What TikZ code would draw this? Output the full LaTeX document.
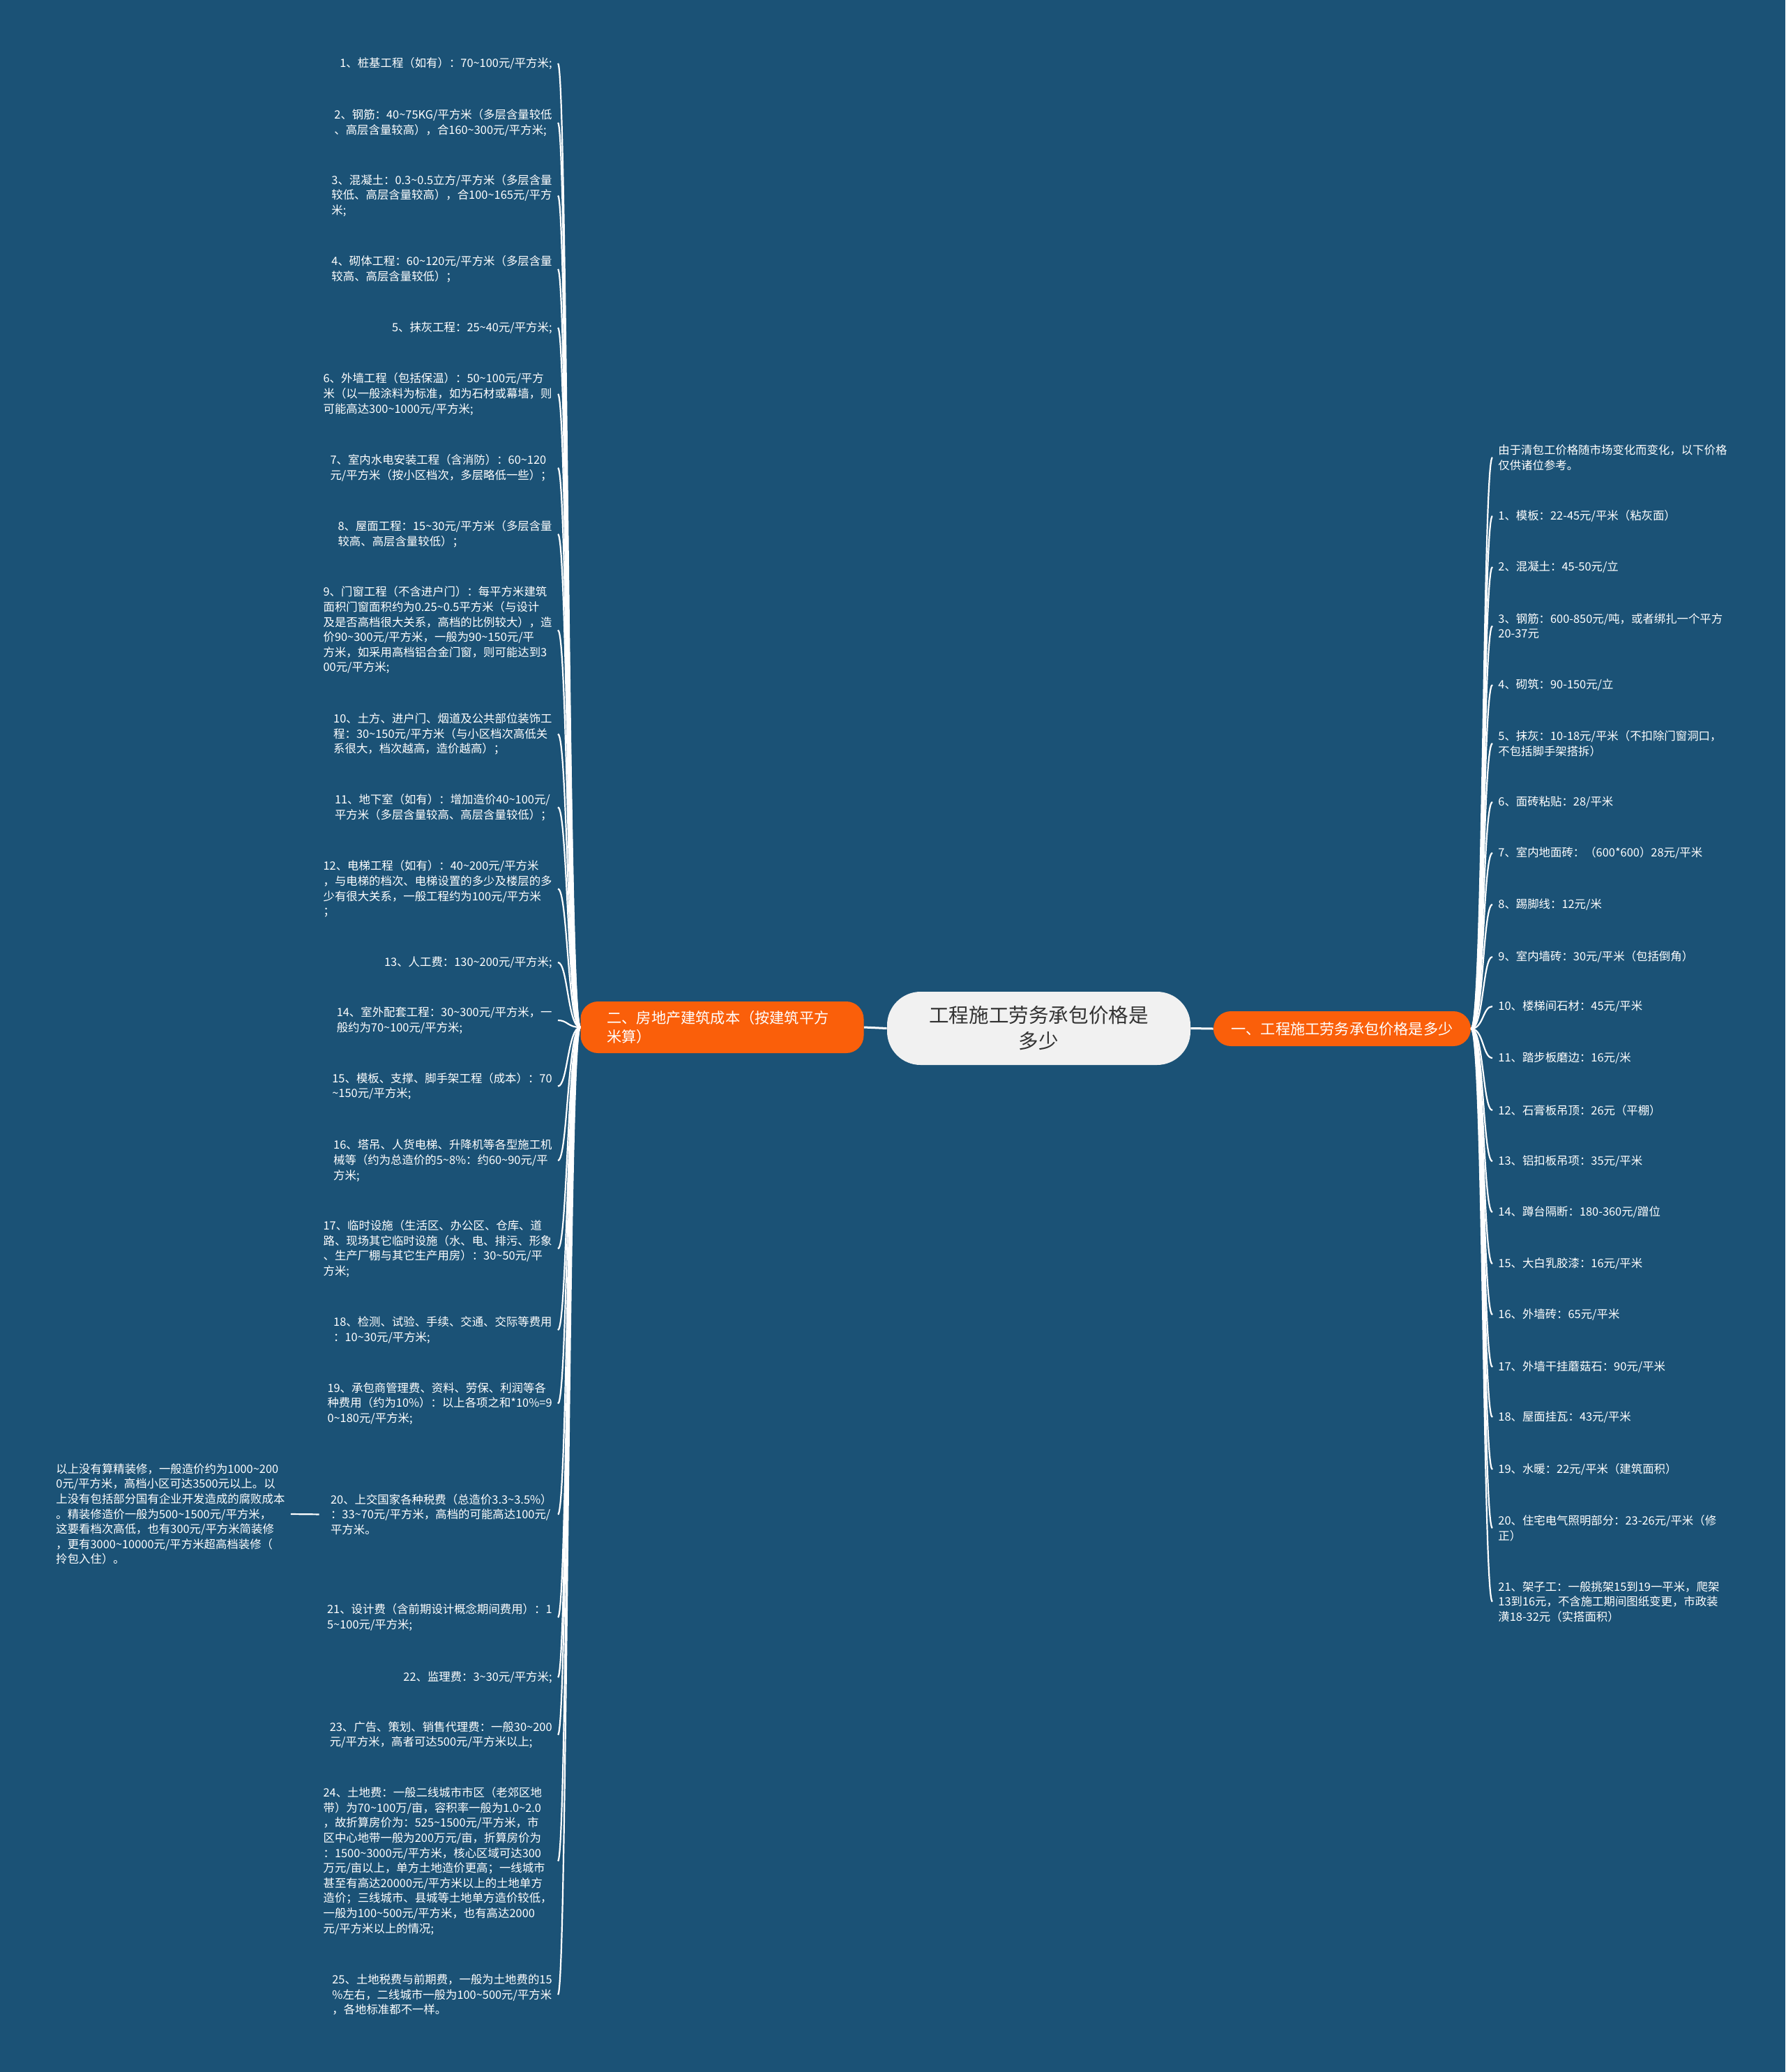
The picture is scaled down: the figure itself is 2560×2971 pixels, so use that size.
\documentclass[tikz,border=0pt]{standalone}
\usepackage{fontspec}
\setmainfont{Noto Sans CJK SC}
\usepackage{tikz}
\definecolor{bgblue}{RGB}{27,82,118}
\definecolor{mmorange}{RGB}{250,95,10}
\definecolor{topicgray}{RGB}{241,241,241}
\newcommand{\tld}{\char"7E\relax}

\begin{document}
\begin{tikzpicture}[x=0.5pt,y=-0.5pt,
    leafl/.style={anchor=east,align=left,text=white,inner xsep=4pt,inner ysep=0pt,font=\fontsize{8.2}{10.8}\selectfont},
    leafr/.style={leafl,anchor=west},
    branch/.style={fill=mmorange,text=white,rounded corners=12.5pt,font=\fontsize{10.6}{13.5}\selectfont},
    link/.style={white,line width=1.1pt}]
    \fill[bgblue] (0,0) rectangle (2560,2971);
    \useasboundingbox (0,0) rectangle (2560,2971);

    % centre and main branches
    \node[fill=topicgray,text=black!80,rounded corners=24pt,minimum width=217.5pt,minimum height=52.5pt,align=center,font=\fontsize{14.3}{18.5}\selectfont] (ctr) at (1489.5,1474.5) {工程施工劳务承包价格是\\多少};
    \node[branch,align=left,text width=165pt,inner xsep=19pt,minimum height=37pt] (lb) at (1035.5,1473) {二、房地产建筑成本（按建筑平方\\米算）};
    \node[branch,minimum width=184.5pt,minimum height=25pt] (rb) at (1924.5,1475) {一、工程施工劳务承包价格是多少};
    \draw[white,line width=1.5pt] (lb.east) -- (ctr.west);
    \draw[white,line width=1.5pt] (ctr.east) -- (rb.west);

    % left leaves
    \node[leafl] (l1) at (800,91) {1、桩基工程（如有）：70\tld100元/平方米;};
    \node[leafl] (l2) at (800,176) {2、钢筋：40\tld75KG/平方米（多层含量较低\\、高层含量较高），合160\tld300元/平方米;};
    \node[leafl] (l3) at (800,280.5) {3、混凝土：0.3\tld0.5立方/平方米（多层含量\\较低、高层含量较高），合100\tld165元/平方\\米;};
    \node[leafl] (l4) at (800,386) {4、砌体工程：60\tld120元/平方米（多层含量\\较高、高层含量较低）；};
    \node[leafl] (l5) at (800,470) {5、抹灰工程：25\tld40元/平方米;};
    \node[leafl] (l6) at (800,565) {6、外墙工程（包括保温）：50\tld100元/平方\\米（以一般涂料为标准，如为石材或幕墙，则\\可能高达300\tld1000元/平方米;};
    \node[leafl] (l7) at (800,671) {7、室内水电安装工程（含消防）：60\tld120\\元/平方米（按小区档次，多层略低一些）；};
    \node[leafl] (l8) at (800,766) {8、屋面工程：15\tld30元/平方米（多层含量\\较高、高层含量较低）；};
    \node[leafl] (l9) at (800,903.5) {9、门窗工程（不含进户门）：每平方米建筑\\面积门窗面积约为0.25\tld0.5平方米（与设计\\及是否高档很大关系，高档的比例较大），造\\价90\tld300元/平方米，一般为90\tld150元/平\\方米，如采用高档铝合金门窗，则可能达到3\\00元/平方米;};
    \node[leafl] (l10) at (800,1052.5) {10、土方、进户门、烟道及公共部位装饰工\\程：30\tld150元/平方米（与小区档次高低关\\系很大，档次越高，造价越高）；};
    \node[leafl] (l11) at (800,1157.5) {11、地下室（如有）：增加造价40\tld100元/\\平方米（多层含量较高、高层含量较低）；};
    \node[leafl] (l12) at (800,1274.5) {12、电梯工程（如有）：40\tld200元/平方米\\，与电梯的档次、电梯设置的多少及楼层的多\\少有很大关系，一般工程约为100元/平方米\\；};
    \node[leafl] (l13) at (800,1380) {13、人工费：130\tld200元/平方米;};
    \node[leafl] (l14) at (800,1463) {14、室外配套工程：30\tld300元/平方米，一\\般约为70\tld100元/平方米;};
    \node[leafl] (l15) at (800,1557.5) {15、模板、支撑、脚手架工程（成本）：70\\\tld150元/平方米;};
    \node[leafl] (l16) at (800,1664) {16、塔吊、人货电梯、升降机等各型施工机\\械等（约为总造价的5\tld8\%：约60\tld90元/平\\方米;};
    \node[leafl] (l17) at (800,1790.5) {17、临时设施（生活区、办公区、仓库、道\\路、现场其它临时设施（水、电、排污、形象\\、生产厂棚与其它生产用房）：30\tld50元/平\\方米;};
    \node[leafl] (l18) at (800,1907) {18、检测、试验、手续、交通、交际等费用\\：10\tld30元/平方米;};
    \node[leafl] (l19) at (800,2012.5) {19、承包商管理费、资料、劳保、利润等各\\种费用（约为10\%）：以上各项之和*10\%=9\\0\tld180元/平方米;};
    \node[leafl] (l20) at (800,2171.5) {20、上交国家各种税费（总造价3.3\tld3.5\%）\\：33\tld70元/平方米，高档的可能高达100元/\\平方米。};
    \node[leafl] (l21) at (800,2319) {21、设计费（含前期设计概念期间费用）：1\\5\tld100元/平方米;};
    \node[leafl] (l22) at (800,2405) {22、监理费：3\tld30元/平方米;};
    \node[leafl] (l23) at (800,2487.5) {23、广告、策划、销售代理费：一般30\tld200\\元/平方米，高者可达500元/平方米以上;};
    \node[leafl] (l24) at (800,2668.5) {24、土地费：一般二线城市市区（老郊区地\\带）为70\tld100万/亩，容积率一般为1.0\tld2.0\\，故折算房价为：525\tld1500元/平方米，市\\区中心地带一般为200万元/亩，折算房价为\\：1500\tld3000元/平方米，核心区域可达300\\万元/亩以上，单方土地造价更高；一线城市\\甚至有高达20000元/平方米以上的土地单方\\造价；三线城市、县城等土地单方造价较低，\\一般为100\tld500元/平方米，也有高达2000\\元/平方米以上的情况;};
    \node[leafl] (l25) at (800,2860) {25、土地税费与前期费，一般为土地费的15\\\%左右，二线城市一般为100\tld500元/平方米\\，各地标准都不一样。};
    \node[leafl,anchor=west] (note) at (72,2171) {以上没有算精装修，一般造价约为1000\tld200\\0元/平方米，高档小区可达3500元以上。以\\上没有包括部分国有企业开发造成的腐败成本\\。精装修造价一般为500\tld1500元/平方米，\\这要看档次高低，也有300元/平方米简装修\\，更有3000\tld10000元/平方米超高档装修（\\拎包入住）。};

    % right leaves
    \node[leafr] (r0) at (2140,656) {由于清包工价格随市场变化而变化，以下价格\\仅供诸位参考。};
    \node[leafr] (r1) at (2140,740) {1、模板：22-45元/平米（粘灰面）};
    \node[leafr] (r2) at (2140,813) {2、混凝土：45-50元/立};
    \node[leafr] (r3) at (2140,897.5) {3、钢筋：600-850元/吨，或者绑扎一个平方\\20-37元};
    \node[leafr] (r4) at (2140,982) {4、砌筑：90-150元/立};
    \node[leafr] (r5) at (2140,1066) {5、抹灰：10-18元/平米（不扣除门窗洞口，\\不包括脚手架搭拆）};
    \node[leafr] (r6) at (2140,1150) {6、面砖粘贴：28/平米};
    \node[leafr] (r7) at (2140,1223) {7、室内地面砖：（600*600）28元/平米};
    \node[leafr] (r8) at (2140,1297) {8、踢脚线：12元/米};
    \node[leafr] (r9) at (2140,1372) {9、室内墙砖：30元/平米（包括倒角）};
    \node[leafr] (r10) at (2140,1443) {10、楼梯间石材：45元/平米};
    \node[leafr] (r11) at (2140,1517) {11、踏步板磨边：16元/米};
    \node[leafr] (r12) at (2140,1592) {12、石膏板吊顶：26元（平棚）};
    \node[leafr] (r13) at (2140,1665) {13、铝扣板吊项：35元/平米};
    \node[leafr] (r14) at (2140,1738) {14、蹲台隔断：180-360元/蹭位};
    \node[leafr] (r15) at (2140,1812) {15、大白乳胶漆：16元/平米};
    \node[leafr] (r16) at (2140,1885) {16、外墙砖：65元/平米};
    \node[leafr] (r17) at (2140,1960) {17、外墙干挂蘑菇石：90元/平米};
    \node[leafr] (r18) at (2140,2032) {18、屋面挂瓦：43元/平米};
    \node[leafr] (r19) at (2140,2107) {19、水暖：22元/平米（建筑面积）};
    \node[leafr] (r20) at (2140,2191) {20、住宅电气照明部分：23-26元/平米（修\\正）};
    \node[leafr] (r21) at (2140,2296.5) {21、架子工：一般挑架15到19一平米，爬架\\13到16元，不含施工期间图纸变更，市政装\\潢18-32元（实搭面积）};

    % connectors, left
    \draw[link] (lb.west) .. controls +(-18,0) and +(14,0) .. (l1.east);
    \draw[link] (lb.west) .. controls +(-18,0) and +(14,0) .. (l2.east);
    \draw[link] (lb.west) .. controls +(-18,0) and +(14,0) .. (l3.east);
    \draw[link] (lb.west) .. controls +(-18,0) and +(14,0) .. (l4.east);
    \draw[link] (lb.west) .. controls +(-18,0) and +(14,0) .. (l5.east);
    \draw[link] (lb.west) .. controls +(-18,0) and +(14,0) .. (l6.east);
    \draw[link] (lb.west) .. controls +(-18,0) and +(14,0) .. (l7.east);
    \draw[link] (lb.west) .. controls +(-18,0) and +(14,0) .. (l8.east);
    \draw[link] (lb.west) .. controls +(-18,0) and +(14,0) .. (l9.east);
    \draw[link] (lb.west) .. controls +(-18,0) and +(14,0) .. (l10.east);
    \draw[link] (lb.west) .. controls +(-18,0) and +(14,0) .. (l11.east);
    \draw[link] (lb.west) .. controls +(-18,0) and +(14,0) .. (l12.east);
    \draw[link] (lb.west) .. controls +(-18,0) and +(14,0) .. (l13.east);
    \draw[link] (lb.west) .. controls +(-18,0) and +(14,0) .. (l14.east);
    \draw[link] (lb.west) .. controls +(-18,0) and +(14,0) .. (l15.east);
    \draw[link] (lb.west) .. controls +(-18,0) and +(14,0) .. (l16.east);
    \draw[link] (lb.west) .. controls +(-18,0) and +(14,0) .. (l17.east);
    \draw[link] (lb.west) .. controls +(-18,0) and +(14,0) .. (l18.east);
    \draw[link] (lb.west) .. controls +(-18,0) and +(14,0) .. (l19.east);
    \draw[link] (lb.west) .. controls +(-18,0) and +(14,0) .. (l20.east);
    \draw[link] (lb.west) .. controls +(-18,0) and +(14,0) .. (l21.east);
    \draw[link] (lb.west) .. controls +(-18,0) and +(14,0) .. (l22.east);
    \draw[link] (lb.west) .. controls +(-18,0) and +(14,0) .. (l23.east);
    \draw[link] (lb.west) .. controls +(-18,0) and +(14,0) .. (l24.east);
    \draw[link] (lb.west) .. controls +(-18,0) and +(14,0) .. (l25.east);
    \draw[link,shorten >=4pt] (note.east) -- (l20.west);

    % connectors, right
    \draw[link] (rb.east) .. controls +(18,0) and +(-14,0) .. (r0.west);
    \draw[link] (rb.east) .. controls +(18,0) and +(-14,0) .. (r1.west);
    \draw[link] (rb.east) .. controls +(18,0) and +(-14,0) .. (r2.west);
    \draw[link] (rb.east) .. controls +(18,0) and +(-14,0) .. (r3.west);
    \draw[link] (rb.east) .. controls +(18,0) and +(-14,0) .. (r4.west);
    \draw[link] (rb.east) .. controls +(18,0) and +(-14,0) .. (r5.west);
    \draw[link] (rb.east) .. controls +(18,0) and +(-14,0) .. (r6.west);
    \draw[link] (rb.east) .. controls +(18,0) and +(-14,0) .. (r7.west);
    \draw[link] (rb.east) .. controls +(18,0) and +(-14,0) .. (r8.west);
    \draw[link] (rb.east) .. controls +(18,0) and +(-14,0) .. (r9.west);
    \draw[link] (rb.east) .. controls +(18,0) and +(-14,0) .. (r10.west);
    \draw[link] (rb.east) .. controls +(18,0) and +(-14,0) .. (r11.west);
    \draw[link] (rb.east) .. controls +(18,0) and +(-14,0) .. (r12.west);
    \draw[link] (rb.east) .. controls +(18,0) and +(-14,0) .. (r13.west);
    \draw[link] (rb.east) .. controls +(18,0) and +(-14,0) .. (r14.west);
    \draw[link] (rb.east) .. controls +(18,0) and +(-14,0) .. (r15.west);
    \draw[link] (rb.east) .. controls +(18,0) and +(-14,0) .. (r16.west);
    \draw[link] (rb.east) .. controls +(18,0) and +(-14,0) .. (r17.west);
    \draw[link] (rb.east) .. controls +(18,0) and +(-14,0) .. (r18.west);
    \draw[link] (rb.east) .. controls +(18,0) and +(-14,0) .. (r19.west);
    \draw[link] (rb.east) .. controls +(18,0) and +(-14,0) .. (r20.west);
    \draw[link] (rb.east) .. controls +(18,0) and +(-14,0) .. (r21.west);
\end{tikzpicture}
\end{document}
